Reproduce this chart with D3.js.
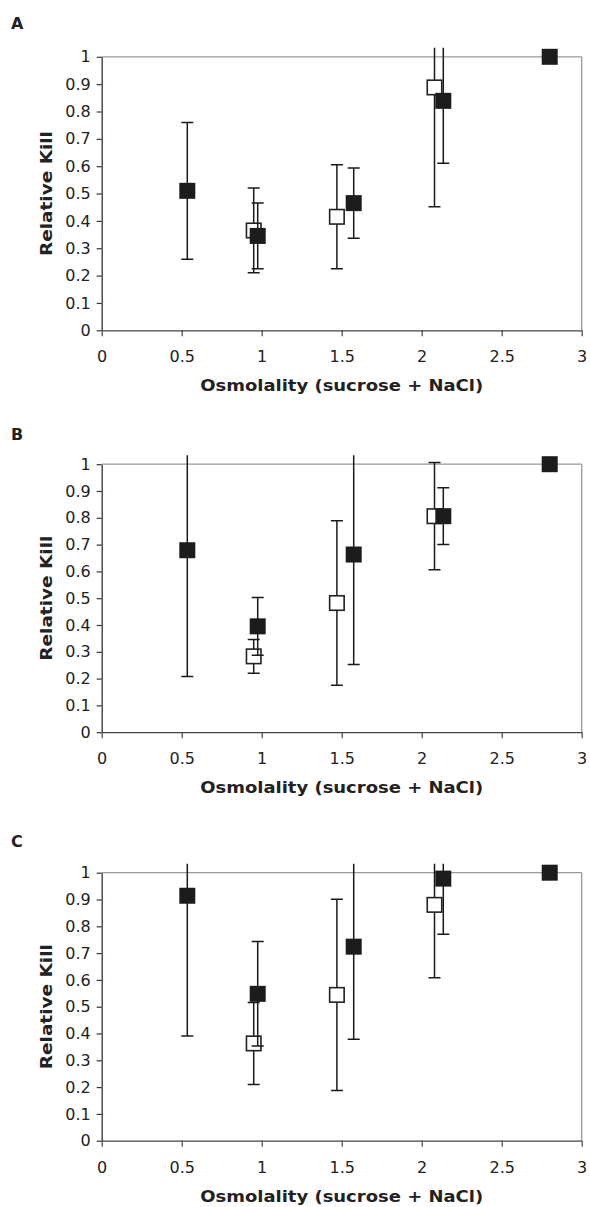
<!DOCTYPE html>
<html>
<head>
<meta charset="utf-8">
<script src="https://cdn.jsdelivr.net/npm/d3@7"></script>
<style>
  html, body { margin: 0; padding: 0; background: #fff; }
  svg { display: block; }
  text { font-family: "DejaVu Sans", Verdana, sans-serif; fill: #222; }
</style>
</head>
<body>
<svg id="chart" width="590" height="1207"></svg>
<script>
// ---- data ----
const panelLabels = ["A", "B", "C"];
const xTicks = [0, 0.5, 1, 1.5, 2, 2.5, 3];
const yTicks = [0, 0.1, 0.2, 0.3, 0.4, 0.5, 0.6, 0.7, 0.8, 0.9, 1];
const xTitle = "Osmolality (sucrose + NaCl)";
const yTitle = "Relative Kill";

const osmoOpen = [0.95, 1.47, 2.08];
const osmoFilled = [0.535, 0.975, 1.575, 2.135, 2.8];

const openA = [0.365, 0.415, 0.888];
const openErrA = [0.155, 0.19, 0.436];
const filledA = [0.51, 0.345, 0.465, 0.839, 1.0];
const filledErrA = [0.25, 0.12, 0.128, 0.228, 0];

const openB = [0.283, 0.482, 0.806];
const openErrB = [0.063, 0.307, 0.2];
const filledB = [0.679, 0.395, 0.663, 0.806, 1.0];
const filledErrB = [0.471, 0.108, 0.41, 0.106, 0];

const openC = [0.363, 0.544, 0.88];
const openErrC = [0.153, 0.357, 0.272];
const filledC = [0.914, 0.548, 0.724, 0.978, 1.0];
const filledErrC = [0.523, 0.195, 0.345, 0.208, 0];

const panels = [
  { label: panelLabels[0], open: openA, openErr: openErrA, filled: filledA, filledErr: filledErrA },
  { label: panelLabels[1], open: openB, openErr: openErrB, filled: filledB, filledErr: filledErrB },
  { label: panelLabels[2], open: openC, openErr: openErrC, filled: filledC, filledErr: filledErrC }
];

// ---- layout ----
const left = 101.7, right = 581.7;
const layout = [
  { top: 56.8, bottom: 330.3, labelY: 29 },
  { top: 464.2, bottom: 732.2, labelY: 440 },
  { top: 872.7, bottom: 1140.7, labelY: 847 }
];
const clipMax = 1.033;

const svg = d3.select("#chart");
const x = d3.scaleLinear().domain([0, 3]).range([left, right]);

panels.forEach((p, i) => {
  const L = layout[i];
  const y = d3.scaleLinear().domain([0, 1]).range([L.bottom, L.top]);
  const g = svg.append("g");

  // panel label
  g.append("text").attr("x", 11).attr("y", L.labelY)
    .attr("font-size", 16).attr("font-weight", "bold").attr("fill", "#111")
    .text(p.label);

  // frame: top and right gray
  g.append("line").attr("x1", left).attr("x2", right).attr("y1", y(1)).attr("y2", y(1))
    .attr("stroke", "#999").attr("stroke-width", 1.3);
  g.append("line").attr("x1", right).attr("x2", right).attr("y1", y(1)).attr("y2", y(0))
    .attr("stroke", "#999").attr("stroke-width", 1.3);

  // y axis
  const yAxis = d3.axisLeft(y).tickValues(yTicks).tickSize(5).tickSizeOuter(0)
    .tickFormat(d3.format("~g"));
  const ya = g.append("g").attr("transform", `translate(${left},0)`).call(yAxis);
  ya.select(".domain").attr("stroke", "#333").attr("stroke-width", 1.3);
  ya.selectAll(".tick line").attr("stroke", "#333").attr("stroke-width", 1.2);
  ya.selectAll(".tick text").attr("x", -11).attr("font-size", 16)
    .attr("font-family", "DejaVu Sans, Verdana, sans-serif").attr("fill", "#222");

  // x axis
  const xAxis = d3.axisBottom(x).tickValues(xTicks).tickSize(6).tickSizeOuter(0)
    .tickFormat(d3.format("~g"));
  const xa = g.append("g").attr("transform", `translate(0,${L.bottom})`).call(xAxis);
  xa.select(".domain").attr("stroke", "#444").attr("stroke-width", 1.3);
  xa.selectAll(".tick line").attr("stroke", "#444").attr("stroke-width", 1.2);
  xa.selectAll(".tick text").attr("y", 20).attr("dy", "0").attr("font-size", 16)
    .attr("font-family", "DejaVu Sans, Verdana, sans-serif").attr("fill", "#222")
    .attr("transform", "translate(0,12)");

  // axis titles
  g.append("text").attr("x", (left + right) / 2).attr("y", L.bottom + 61)
    .attr("text-anchor", "middle").attr("font-size", 16).attr("font-weight", "bold")
    .attr("fill", "#1a1a1a")
    .attr("textLength", 283).attr("lengthAdjust", "spacingAndGlyphs")
    .text(xTitle);
  g.append("text")
    .attr("transform", `translate(52,${(L.top + L.bottom) / 2}) rotate(-90)`)
    .attr("text-anchor", "middle").attr("font-size", 16).attr("font-weight", "bold")
    .attr("fill", "#1a1a1a")
    .attr("textLength", 125).attr("lengthAdjust", "spacingAndGlyphs")
    .text(yTitle);

  // clip for error bars
  const clipId = "clip" + i;
  svg.append("clipPath").attr("id", clipId).append("rect")
    .attr("x", 0).attr("y", y(clipMax)).attr("width", 590).attr("height", L.bottom - y(clipMax) + 20);

  function drawSeries(xs, vals, errs, filled) {
    const data = xs.map((d, k) => ({ x: d, v: vals[k], e: errs[k] }));
    const eg = g.append("g").attr("clip-path", `url(#${clipId})`)
      .attr("stroke", "#1a1a1a").attr("stroke-width", 1.5);
    const withErr = data.filter(d => d.e > 0);
    eg.selectAll("line.v").data(withErr).join("line")
      .attr("x1", d => x(d.x)).attr("x2", d => x(d.x))
      .attr("y1", d => y(d.v - d.e)).attr("y2", d => y(d.v + d.e));
    eg.selectAll("line.lo").data(withErr).join("line")
      .attr("x1", d => x(d.x) - 6).attr("x2", d => x(d.x) + 6)
      .attr("y1", d => y(d.v - d.e)).attr("y2", d => y(d.v - d.e));
    eg.selectAll("line.hi").data(withErr).join("line")
      .attr("x1", d => x(d.x) - 6).attr("x2", d => x(d.x) + 6)
      .attr("y1", d => y(d.v + d.e)).attr("y2", d => y(d.v + d.e));
    const s = filled ? 16 : 14.5;
    g.append("g").selectAll("rect").data(data).join("rect")
      .attr("x", d => x(d.x) - s / 2).attr("y", d => y(d.v) - s / 2)
      .attr("width", s).attr("height", s)
      .attr("fill", filled ? "#1c1c1c" : "#fff")
      .attr("stroke", filled ? "none" : "#222").attr("stroke-width", 1.6);
  }
  drawSeries(osmoOpen, p.open, p.openErr, false);
  drawSeries(osmoFilled, p.filled, p.filledErr, true);
});
</script>
</body>
</html>
